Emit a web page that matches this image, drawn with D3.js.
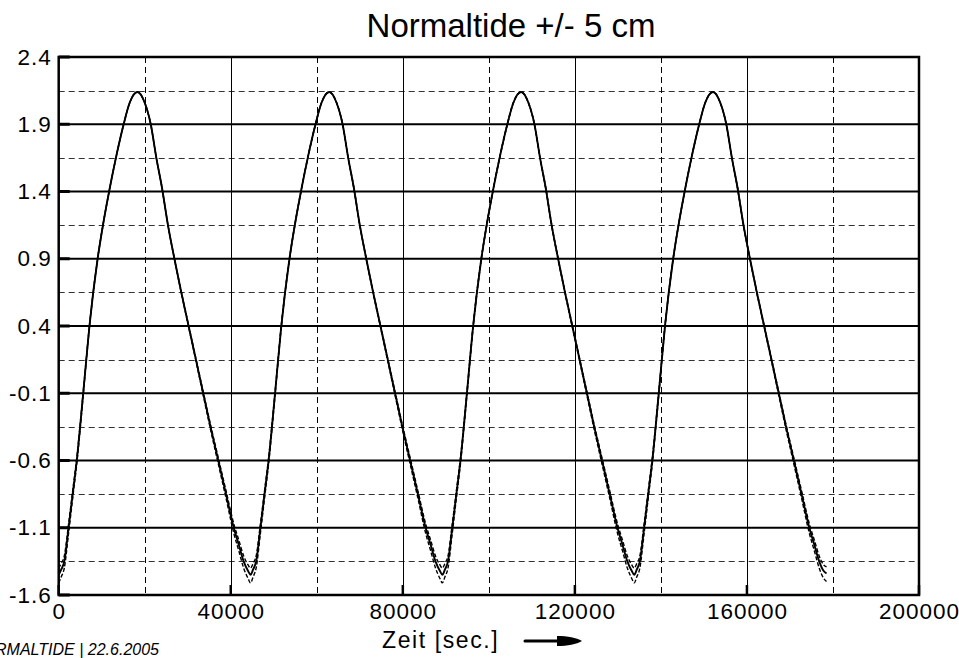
<!DOCTYPE html>
<html>
<head>
<meta charset="utf-8">
<script src="https://cdn.jsdelivr.net/npm/d3@7"></script>
<style>
  html, body { margin: 0; padding: 0; background: #fff; }
  svg { display: block; }
  text { font-family: "Liberation Sans", Arial, sans-serif; fill: #000; }
</style>
</head>
<body>
<svg id="chart" width="959" height="658"></svg>
<script>
// ---------------- data ----------------
const title = "Normaltide +/- 5 cm";
const xLabel = "Zeit [sec.]";
const footer = "NORMALTIDE | 22.6.2005";

const xTicks = [0, 40000, 80000, 120000, 160000, 200000];
const xMinorTicks = [20000, 60000, 100000, 140000, 180000];
const yTicks = [-1.6, -1.1, -0.6, -0.1, 0.4, 0.9, 1.4, 1.9, 2.4];
const yMinorTicks = [-1.35, -0.85, -0.35, 0.15, 0.65, 1.15, 1.65, 2.15];

// time in seconds
const time = [
  0, 600, 1300, 2300, 3250, 4200, 5700, 7150, 9050, 10400, 11900, 13300, 15100, 16500, 18300, 20000,
  21400, 22700, 24000, 25400, 26900, 28500, 30200, 31900, 33600, 35300, 37100, 38900, 40700, 41900, 43000, 44000,
  44600, 45200, 45900, 46900, 47850, 48800, 50300, 51750, 53650, 55000, 56500, 57900, 59700, 61100, 62900, 64600,
  66000, 67300, 68600, 70000, 71500, 73100, 74800, 76500, 78200, 79900, 81700, 83500, 85300, 86500, 87600, 88600,
  89200, 89800, 90500, 91500, 92450, 93400, 94900, 96350, 98250, 99600, 101100, 102500, 104300, 105700, 107500, 109200,
  110600, 111900, 113200, 114600, 116100, 117700, 119400, 121100, 122800, 124500, 126300, 128100, 129900, 131100, 132200, 133200,
  133800, 134400, 135100, 136100, 137050, 138000, 139500, 140950, 142850, 144200, 145700, 147100, 148900, 150300, 152100, 153800,
  155200, 156500, 157800, 159200, 160700, 162300, 164000, 165700, 167400, 169100, 170900, 172700, 174500, 175700, 176800, 177800,
  178500
];

// normal tide (solid)
const normal = [
  -1.45, -1.41, -1.35, -1.10, -0.85, -0.60, -0.10, 0.40, 0.90, 1.17, 1.43, 1.65, 1.90, 2.06, 2.14, 2.06,
  1.90, 1.65, 1.43, 1.15, 0.90, 0.65, 0.40, 0.15, -0.10, -0.35, -0.60, -0.85, -1.10, -1.23, -1.35, -1.42,
  -1.45, -1.41, -1.35, -1.10, -0.85, -0.60, -0.10, 0.40, 0.90, 1.17, 1.43, 1.65, 1.90, 2.06, 2.14, 2.06,
  1.90, 1.65, 1.43, 1.15, 0.90, 0.65, 0.40, 0.15, -0.10, -0.35, -0.60, -0.85, -1.10, -1.23, -1.35, -1.42,
  -1.45, -1.41, -1.35, -1.10, -0.85, -0.60, -0.10, 0.40, 0.90, 1.17, 1.43, 1.65, 1.90, 2.06, 2.14, 2.06,
  1.90, 1.65, 1.43, 1.15, 0.90, 0.65, 0.40, 0.15, -0.10, -0.35, -0.60, -0.85, -1.10, -1.23, -1.35, -1.42,
  -1.45, -1.41, -1.35, -1.10, -0.85, -0.60, -0.10, 0.40, 0.90, 1.17, 1.43, 1.65, 1.90, 2.06, 2.14, 2.06,
  1.90, 1.65, 1.43, 1.15, 0.90, 0.65, 0.40, 0.15, -0.10, -0.35, -0.60, -0.85, -1.10, -1.23, -1.35, -1.42,
  -1.44
];

// tide +5 cm (dashed)
const plus5 = [
  -1.40, -1.365, -1.31, -1.07, -0.825, -0.58, -0.09, 0.405, 0.90, 1.17, 1.43, 1.65, 1.90, 2.06, 2.14, 2.06,
  1.90, 1.65, 1.43, 1.15, 0.90, 0.655, 0.405, 0.158, -0.09, -0.335, -0.58, -0.825, -1.07, -1.195, -1.31, -1.375,
  -1.40, -1.365, -1.31, -1.07, -0.825, -0.58, -0.09, 0.405, 0.90, 1.17, 1.43, 1.65, 1.90, 2.06, 2.14, 2.06,
  1.90, 1.65, 1.43, 1.15, 0.90, 0.655, 0.405, 0.158, -0.09, -0.335, -0.58, -0.825, -1.07, -1.195, -1.31, -1.375,
  -1.40, -1.365, -1.31, -1.07, -0.825, -0.58, -0.09, 0.405, 0.90, 1.17, 1.43, 1.65, 1.90, 2.06, 2.14, 2.06,
  1.90, 1.65, 1.43, 1.15, 0.90, 0.655, 0.405, 0.158, -0.09, -0.335, -0.58, -0.825, -1.07, -1.195, -1.31, -1.375,
  -1.40, -1.365, -1.31, -1.07, -0.825, -0.58, -0.09, 0.405, 0.90, 1.17, 1.43, 1.65, 1.90, 2.06, 2.14, 2.06,
  1.90, 1.65, 1.43, 1.15, 0.90, 0.655, 0.405, 0.158, -0.09, -0.335, -0.58, -0.825, -1.07, -1.195, -1.31, -1.375,
  -1.39
];

// tide -5 cm (dashed)
const minus5 = [
  -1.51, -1.465, -1.40, -1.14, -0.88, -0.625, -0.115, 0.393, 0.90, 1.17, 1.43, 1.65, 1.90, 2.06, 2.14, 2.06,
  1.90, 1.65, 1.43, 1.15, 0.90, 0.645, 0.393, 0.14, -0.115, -0.37, -0.625, -0.88, -1.14, -1.275, -1.40, -1.475,
  -1.51, -1.465, -1.40, -1.14, -0.88, -0.625, -0.115, 0.393, 0.90, 1.17, 1.43, 1.65, 1.90, 2.06, 2.14, 2.06,
  1.90, 1.65, 1.43, 1.15, 0.90, 0.645, 0.393, 0.14, -0.115, -0.37, -0.625, -0.88, -1.14, -1.275, -1.40, -1.475,
  -1.51, -1.465, -1.40, -1.14, -0.88, -0.625, -0.115, 0.393, 0.90, 1.17, 1.43, 1.65, 1.90, 2.06, 2.14, 2.06,
  1.90, 1.65, 1.43, 1.15, 0.90, 0.645, 0.393, 0.14, -0.115, -0.37, -0.625, -0.88, -1.14, -1.275, -1.40, -1.475,
  -1.51, -1.465, -1.40, -1.14, -0.88, -0.625, -0.115, 0.393, 0.90, 1.17, 1.43, 1.65, 1.90, 2.06, 2.14, 2.06,
  1.90, 1.65, 1.43, 1.15, 0.90, 0.645, 0.393, 0.14, -0.115, -0.37, -0.625, -0.88, -1.14, -1.275, -1.40, -1.475,
  -1.50
];

// ---------------- drawing ----------------
const svg = d3.select("#chart");
const L = 58.7, R = 919, T = 57, B = 595;

const x = d3.scaleLinear().domain([0, 200000]).range([L, R]);
const y = d3.scaleLinear().domain([-1.6, 2.4]).range([B, T]);

const defs = svg.append("defs");
defs.append("clipPath").attr("id", "plotclip")
  .append("rect").attr("x", L).attr("y", T).attr("width", R - L).attr("height", B - T);

const grid = svg.append("g");

// minor horizontal (dashed)
grid.selectAll("line.hminor").data(yMinorTicks).join("line")
  .attr("x1", L).attr("x2", R)
  .attr("y1", d => Math.round(y(d)) + 0.5).attr("y2", d => Math.round(y(d)) + 0.5)
  .attr("stroke", "#333").attr("stroke-width", 1).attr("stroke-dasharray", "6,4");

// minor vertical (dashed)
grid.selectAll("line.vminor").data(xMinorTicks).join("line")
  .attr("x1", d => Math.round(x(d)) + 0.5).attr("x2", d => Math.round(x(d)) + 0.5)
  .attr("y1", T).attr("y2", B)
  .attr("stroke", "#000").attr("stroke-width", 1).attr("stroke-dasharray", "6,4");

// major vertical (solid thin)
grid.selectAll("line.vmajor").data(xTicks.slice(1, -1)).join("line")
  .attr("x1", d => Math.round(x(d)) + 0.5).attr("x2", d => Math.round(x(d)) + 0.5)
  .attr("y1", T).attr("y2", B)
  .attr("stroke", "#000").attr("stroke-width", 1);

// major horizontal (solid thick)
grid.selectAll("line.hmajor").data(yTicks.slice(1, -1)).join("line")
  .attr("x1", L).attr("x2", R)
  .attr("y1", d => y(d)).attr("y2", d => y(d))
  .attr("stroke", "#000").attr("stroke-width", 2);

// inward tick stubs
grid.selectAll("line.ytick").data(yTicks).join("line")
  .attr("x1", L).attr("x2", L + 11)
  .attr("y1", d => y(d)).attr("y2", d => y(d))
  .attr("stroke", "#000").attr("stroke-width", 3);
grid.selectAll("line.xtick").data(xTicks).join("line")
  .attr("x1", d => x(d)).attr("x2", d => x(d))
  .attr("y1", B).attr("y2", B - 10)
  .attr("stroke", "#000").attr("stroke-width", 2.5);

// series
const idx = d3.range(time.length);
const lineOf = arr => d3.line()
  .x(i => x(time[i]))
  .y(i => y(arr[i]))
  .curve(d3.curveMonotoneX)(idx);

const series = svg.append("g").attr("clip-path", "url(#plotclip)");
series.append("path").attr("d", lineOf(minus5))
  .attr("fill", "none").attr("stroke", "#000").attr("stroke-width", 1.4)
  .attr("stroke-dasharray", "4,2");
series.append("path").attr("d", lineOf(plus5))
  .attr("fill", "none").attr("stroke", "#000").attr("stroke-width", 1.4)
  .attr("stroke-dasharray", "4,2");
series.append("path").attr("d", lineOf(normal))
  .attr("fill", "none").attr("stroke", "#000").attr("stroke-width", 1.9)
  .attr("stroke-linejoin", "round");

// frame
svg.append("rect")
  .attr("x", L).attr("y", T).attr("width", R - L).attr("height", B - T)
  .attr("fill", "none").attr("stroke", "#000").attr("stroke-width", 2.5);

// axes labels via d3 axes
const yAxis = d3.axisLeft(y).tickValues(yTicks).tickSize(0).tickPadding(7)
  .tickFormat(d => d.toFixed(1));
const gy = svg.append("g").attr("transform", `translate(${L},0)`).call(yAxis);
gy.select(".domain").remove();
gy.selectAll("text")
  .attr("dy", null).attr("y", 7)
  .style("font-family", '"Liberation Sans", Arial, sans-serif')
  .style("font-size", "22.5px").style("letter-spacing", "1px").attr("fill", "#000");

const xAxis = d3.axisBottom(x).tickValues(xTicks).tickSize(0).tickPadding(0)
  .tickFormat(d => String(d));
const gx = svg.append("g").attr("transform", `translate(0,${B})`).call(xAxis);
gx.select(".domain").remove();
gx.selectAll("text")
  .attr("dy", null).attr("y", 24)
  .style("font-family", '"Liberation Sans", Arial, sans-serif')
  .style("font-size", "22.5px").style("letter-spacing", "1px").attr("fill", "#000");

// title
svg.append("text").attr("x", 511).attr("y", 37).attr("text-anchor", "middle")
  .style("font-size", "33px").text(title);

// x label + arrow
svg.append("text").attr("x", 382).attr("y", 648)
  .style("font-size", "23px").style("letter-spacing", "1.6px").text(xLabel);
svg.append("line").attr("x1", 525).attr("x2", 562).attr("y1", 641).attr("y2", 641)
  .attr("stroke", "#000").attr("stroke-width", 3).attr("stroke-linecap", "round");
svg.append("path")
  .attr("d", "M557,636 C568,636 576,637.5 582,641 C576,644.5 568,646 557,646 Z")
  .attr("fill", "#000");

// footer (its start runs off the left edge, as in the reference)
svg.append("text").attr("x", 159).attr("y", 655)
  .attr("text-anchor", "end")
  .style("font-size", "16px").style("font-style", "italic").text(footer);
</script>
</body>
</html>
